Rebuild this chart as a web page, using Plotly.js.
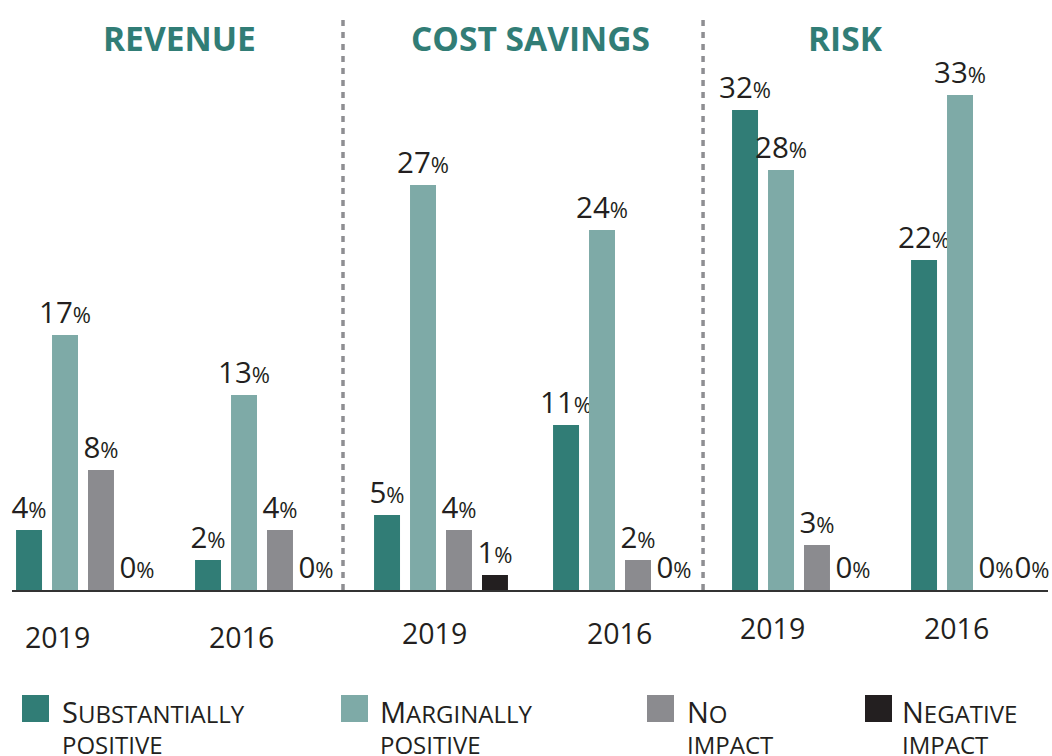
<!DOCTYPE html>
<html>
<head>
<meta charset="utf-8">
<script src="https://cdn.plot.ly/plotly-3.0.1.min.js"></script>
<style>
html,body{margin:0;padding:0;background:#fff;}
#chart{width:1052px;height:756px;}
</style>
</head>
<body>
<div id="chart"></div>
<script>
// ---- data ----
const subgroups = ['Revenue 2019','Revenue 2016','Cost 2019','Cost 2016','Risk 2019','Risk 2016'];
const yearLabels = ['2019','2016','2019','2016','2019','2016'];
const panelTitles = ['REVENUE','COST SAVINGS','RISK'];
const seriesNames = ['Substantially positive','Marginally positive','No impact','Negative impact'];
const substantiallyPositive = [4, 2, 5, 11, 32, 22];
const marginallyPositive   = [17, 13, 27, 24, 28, 33];
const noImpact             = [8, 4, 4, 2, 3, 0];
const negativeImpact       = [0, 0, 1, 0, 0, 0];
const legendFirst = ['S','M','N','N'];
const legendRest1 = ['UBSTANTIALLY','ARGINALLY','O','EGATIVE'];
const legendRest2 = ['POSITIVE','POSITIVE','IMPACT','IMPACT'];

// ---- styles ----
const colors = ['#317d76','#7eaaa7','#8b8b8f','#231f20'];
const textColor = '#231f20';
const FONT = 'Open Sans, sans-serif';

// layout geometry (pixels)
const W = 1052, H = 756;
const M = {l:12, r:4, t:20, b:166};
const plotW = W - M.l - M.r, plotH = H - M.t - M.b;
const px2x = p => (p - M.l) / plotW;
const py2y = p => (H - M.b - p) / plotH;

const allSeries = [substantiallyPositive, marginallyPositive, noImpact, negativeImpact];
const traces = allSeries.map((vals, i) => ({
  type: 'bar',
  name: seriesNames[i],
  x: subgroups,
  y: vals,
  marker: {color: colors[i]},
  texttemplate: '%{y}<span style="font-size:22px">%</span>',
  textposition: 'outside',
  constraintext: 'none',
  cliponaxis: false,
  textfont: {family: FONT, size: 29.5, color: textColor},
  hoverinfo: 'skip',
  showlegend: false
}));

const annotations = [];
// panel titles
const titleX = [0.54, 2.5, 4.26];
panelTitles.forEach((t, i) => annotations.push({
  text: '<b>' + t + '</b>', x: titleX[i], xref: 'x', y: py2y(38), yref: 'paper',
  xanchor: 'center', yanchor: 'middle', showarrow: false,
  font: {family: FONT, size: 33.5, color: colors[0]}
}));
// year labels
const yearShiftX = [-26, -21, -7, -1, -27, -22];
const yearPy = [637, 637, 633, 633, 628, 628];
yearLabels.forEach((t, i) => annotations.push({
  text: t, x: subgroups[i], xref: 'x', y: py2y(yearPy[i]), yref: 'paper',
  xshift: yearShiftX[i], xanchor: 'center', yanchor: 'middle', showarrow: false,
  font: {family: FONT, size: 28.5, color: textColor}
}));
// legend
const legSqX = [22, 341, 647, 865];
const legTxtX = [60, 378, 685, 900];
const shapes = [];
seriesNames.forEach((n, i) => {
  shapes.push({type: 'rect', xref: 'paper', yref: 'paper',
    x0: px2x(legSqX[i]), x1: px2x(legSqX[i] + 27), y0: py2y(722), y1: py2y(695),
    fillcolor: colors[i], line: {width: 0}});
  annotations.push({
    text: '<span style="font-size:29px">' + legendFirst[i] + '</span>' + legendRest1[i] + '<br>' + legendRest2[i],
    x: px2x(legTxtX[i]), xref: 'paper', y: py2y(690), yref: 'paper',
    xanchor: 'left', yanchor: 'top', align: 'left', showarrow: false,
    font: {family: FONT, size: 24, color: textColor}
  });
});
// dividers
[1.4525, 3.464].forEach(xv => shapes.push({
  type: 'line', xref: 'x', yref: 'paper', x0: xv, x1: xv, y0: 0, y1: py2y(15),
  line: {color: '#8e8e92', width: 3.5, dash: '6px,6px'}
}));

const layout = {
  width: W, height: H,
  margin: M,
  paper_bgcolor: '#fff', plot_bgcolor: '#fff',
  barmode: 'group', bargap: 0.196, bargroupgap: 0.278,
  xaxis: {type: 'category', range: [-(83 - M.l) / 179, -(83 - M.l) / 179 + plotW / 179],
    showticklabels: false, ticks: '', showgrid: false, zeroline: false,
    showline: true, linecolor: '#333', linewidth: 2, fixedrange: true},
  yaxis: {range: [0, plotH / 15], visible: false, showgrid: false, zeroline: false, fixedrange: true},
  annotations: annotations,
  shapes: shapes,
  font: {family: FONT, color: textColor}
};

Plotly.newPlot('chart', traces, layout, {displayModeBar: false, staticPlot: true});
</script>
</body>
</html>
